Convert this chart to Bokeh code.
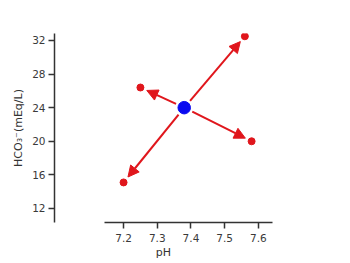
from bokeh.plotting import figure
from bokeh.models import ColumnDataSource, Arrow, NormalHead, Range1d, FixedTicker
from bokeh.embed import file_html
from bokeh.resources import INLINE

# data
center_ph = [7.38]
center_hco3 = [24.0]
end_ph = [7.56, 7.25, 7.58, 7.20]
end_hco3 = [32.5, 26.4, 20.0, 15.1]
x_ticks = [7.2, 7.3, 7.4, 7.5, 7.6]
y_ticks = [12, 16, 20, 24, 28, 32]

# layout constants
X0, X1 = 6.995, 7.642
Y0, Y1 = 10.33, 32.83
X_AXIS_START = 7.143
FW, FH = 218, 189
RED = "#e0161c"
BLUE = "#0a0af0"

p = figure(width=350, height=263, output_backend="svg", toolbar_location=None,
           x_range=Range1d(X0, X1), y_range=Range1d(Y0, Y1),
           min_border_left=54, min_border_right=78, min_border_top=33,
           min_border_bottom=41)
p.outline_line_color = None
p.xgrid.visible = False
p.ygrid.visible = False
p.background_fill_color = "white"

# arrows: computed in pixel space with small gaps
sx = FW / (X1 - X0)
sy = FH / (Y1 - Y0)
xs, ys, xe, ye = [], [], [], []
cx, cy = center_ph[0], center_hco3[0]
for ex, ey in zip(end_ph, end_hco3):
    dx = (ex - cx) * sx
    dy = (ey - cy) * sy
    L = (dx * dx + dy * dy) ** 0.5
    ux, uy = dx / L, dy / L
    xs.append(cx + 9 * ux / sx)
    ys.append(cy + 9 * uy / sy)
    xe.append(ex - 7 * ux / sx)
    ye.append(ey - 7 * uy / sy)
asrc = ColumnDataSource(dict(xs=xs, ys=ys, xe=xe, ye=ye))
p.add_layout(Arrow(x_start="xs", y_start="ys", x_end="xe", y_end="ye", source=asrc,
                   line_color=RED, line_width=2,
                   end=NormalHead(size=11, fill_color=RED, line_color=RED, line_width=1)))

p.scatter(end_ph, end_hco3, size=7, fill_color=RED, line_color=RED)
p.scatter(center_ph, center_hco3, size=12.5, fill_color=BLUE, line_color=BLUE)

for ax in (p.xaxis[0], p.yaxis[0]):
    ax.axis_line_color = "#333333"
    ax.axis_line_width = 1.5
    ax.major_tick_line_color = "#333333"
    ax.major_tick_line_width = 1.5
    ax.major_tick_out = 6
    ax.major_tick_in = 0
    ax.minor_tick_line_color = None
    ax.major_label_text_font = "DejaVu Sans"
    ax.major_label_text_font_size = "10.5px"
    ax.major_label_text_color = "#3a3a3a"
    ax.axis_label_text_font = "DejaVu Sans"
    ax.axis_label_text_font_size = "11px"
    ax.axis_label_text_font_style = "normal"
    ax.axis_label_text_color = "#333333"

p.xaxis.ticker = FixedTicker(ticks=x_ticks)
p.yaxis.ticker = FixedTicker(ticks=y_ticks)
p.xaxis.bounds = (X_AXIS_START, X1)
p.xaxis.axis_label = "pH"
p.yaxis.axis_label = "HCO₃⁻(mEq/L)"
p.xaxis.major_label_standoff = 5
p.xaxis.axis_label_standoff = 1
p.yaxis.major_label_standoff = 3
p.yaxis.axis_label_standoff = 4

open("out.html", "w").write(file_html(p, INLINE))
